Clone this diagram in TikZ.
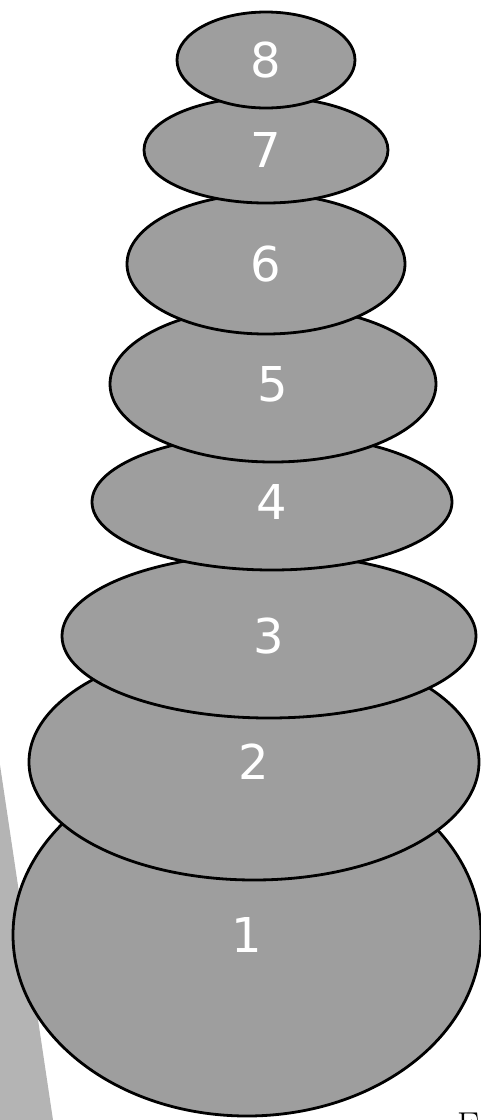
\documentclass[tikz,border=0pt]{standalone}
\usepackage{fontspec}
\setsansfont{DejaVu Sans}
\usetikzlibrary{shapes.geometric}
\definecolor{stonegray}{RGB}{158,158,158}
\definecolor{dotgray}{RGB}{180,180,180}
\tikzset{stone/.style={ellipse,draw=black,line width=1.4pt,fill=stonegray,inner sep=0pt,outer sep=0pt,
    text=white,font=\sffamily\fontsize{24}{24}\selectfont}}

\begin{document}
\begin{tikzpicture}[x=0.5pt,y=-0.5pt]
  \useasboundingbox (0,0) rectangle (481,1120);
  \fill[dotgray] (0,765) -- (53,1120) -- (0,1120) -- cycle;
  % stones, bottom one first
  \node[stone,minimum width=234pt,minimum height=181pt] (s1) at (247,935) {1};
  \node[stone,minimum width=225pt,minimum height=118pt] (s2) at (254,762) {2};
  \node[stone,minimum width=207pt,minimum height=82pt] (s3) at (269,636) {3};
  \node[stone,minimum width=180pt,minimum height=68pt] (s4) at (272,502) {4};
  \node[stone,minimum width=163pt,minimum height=78pt] (s5) at (273,384) {5};
  \node[stone,minimum width=139pt,minimum height=70pt] (s6) at (266,264) {6};
  \node[stone,minimum width=122pt,minimum height=53pt] (s7) at (266,150) {7};
  \node[stone,minimum width=89pt,minimum height=48pt] (s8) at (266,60) {8};
  \begin{scope}
    \clip (0,0) rectangle (481,1120);
    \node[anchor=north west,inner sep=0pt,font=\fontsize{18}{18}\selectfont] (cap) at (457,1113) {E};
  \end{scope}
\end{tikzpicture}
\end{document}
